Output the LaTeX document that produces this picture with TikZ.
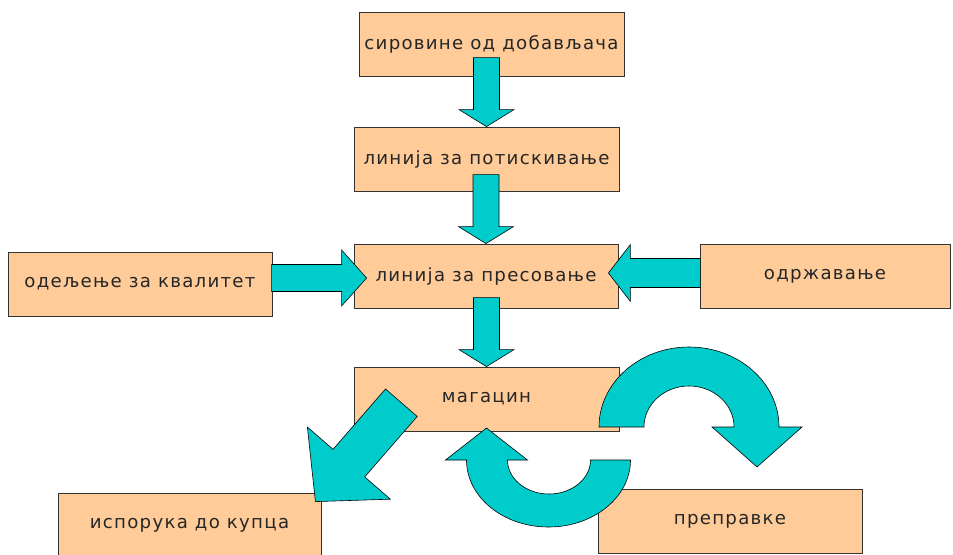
\documentclass[tikz,border=0pt]{standalone}
\usepackage{fontspec}
\setmainfont[LetterSpace=7]{DejaVu Sans}
\usetikzlibrary{calc}

\definecolor{breskva}{HTML}{FFCC99}
\definecolor{tirkiz}{HTML}{00CCCC}

\tikzset{
  pics/strelica/.style n args={4}{code={
    \draw[tirkizna] (-#3,-#1) -- (#3,-#1) -- (#3,-#2) -- (#4,-#2) -- (0,0) -- (-#4,-#2) -- (-#3,-#2) -- cycle;
  }}
}

\begin{document}
\begin{tikzpicture}[x=0.03cm,y=-0.03cm,
  blok/.style={draw=black!80, line width=0.7pt, fill=breskva, inner sep=0pt, minimum height=1.92cm,
    font=\fontsize{15.5}{18}\selectfont, text=black!85},
  tirkizna/.style={draw=black, line width=0.5pt, fill=tirkiz, line join=miter}]
\useasboundingbox (0,0) rectangle (953,554);
\clip (0,0) rectangle (953,554);

\node[blok, minimum width=7.95cm] (sirovine) at (491.5,44) {сировине од добављача};
\node[blok, minimum width=7.95cm] (potiskivanje) at (486.5,159) {линија за потискивање};
\node[blok, minimum width=7.92cm] (presovanje) at (486,276) {линија за пресовање};
\node[blok, minimum width=7.95cm] (magacin) at (486.5,399) {магацин};
\node[blok, minimum width=7.92cm] (kvalitet) at (140,284) {одељење за квалитет};
\node[blok, minimum width=7.5cm] (odrzavanje) at (825,276.5) {одржавање};
\node[blok, minimum width=7.89cm] (isporuka) at (189.5,525) {испорука до купца};
\node[blok, minimum width=7.92cm] (prepravke) at (730,521) {преправке};

% strelice
\pic at (potiskivanje.north) {strelica={69}{17}{13}{27.5}};
\pic at (presovanje.north) {strelica={69}{17}{13}{27.5}};
\pic at (magacin.north) {strelica={69}{17}{13}{27.5}};
\pic[rotate=90] at ($(presovanje.west)+(13,2)$) {strelica={95}{25}{13.5}{28}};
\pic[rotate=-90] at ($(presovanje.east)+(-10,-3)$) {strelica={92}{22}{14.5}{28.5}};
\pic[rotate=-41] at ($(isporuka.north east)+(-6,9)$) {strelica={131}{51}{21}{55}};

% kruzne strelice
\coordinate (gornjiluk) at (690,427);
\coordinate (donjiluk) at (548.5,460);
\draw[tirkizna] (gornjiluk) ++(-91,0) arc[start angle=180, end angle=0, x radius=2.7cm, y radius=2.4cm]
  -- ++(23,0) -- ++(-45,40) -- ++(-45,-40) -- ++(22,0)
  arc[start angle=0, end angle=180, x radius=1.35cm, y radius=1.23cm] -- cycle;
\draw[tirkizna] (donjiluk) ++(82,0) arc[start angle=0, end angle=-180, x radius=2.46cm, y radius=2.01cm]
  -- ++(-21,0) -- ++(41,-32) -- ++(41,32) -- ++(-20,0)
  arc[start angle=180, end angle=360, x radius=1.245cm, y radius=1.02cm] -- cycle;
\end{tikzpicture}
\end{document}
